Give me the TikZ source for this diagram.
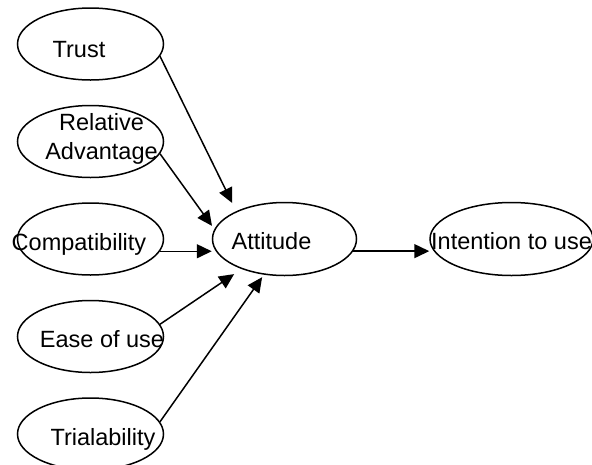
\documentclass[tikz,border=0pt]{standalone}
\usepackage{fontspec}
\setmainfont{Liberation Sans}
\usetikzlibrary{arrows.meta, positioning, shapes.geometric}

\begin{document}
\begin{tikzpicture}[
    x=1pt, y=1pt,
    oval/.style={draw, ellipse, line width=1.5pt, minimum width=146pt, minimum height=72pt, inner sep=0pt},
    txt/.style={font=\fontsize{23.5}{29}\selectfont, align=center, inner sep=0pt},
    stxt/.style={txt, text height=17pt, text depth=5pt},
    link/.style={line width=1.5pt, -{Triangle[length=15pt, width=14pt]}}
]
  \useasboundingbox (0,0) rectangle (592,-464);

  % Left column (factors)
  \node[oval, label={[stxt, xshift=-11.5pt, yshift=-7pt]center:Trust}] (trust) at (90.5,-44) {};
  \node[oval, below=24pt of trust, label={[txt, xshift=11pt, yshift=3pt]center:Relative\\Advantage}] (reladv) {};
  \node[oval, below=24pt of reladv, label={[stxt, xshift=-11.5pt, yshift=-5pt]center:Compatibility}] (compat) {};
  \node[oval, below=24pt of compat, label={[stxt, xshift=11.5pt, yshift=-4.5pt]center:Ease of use}] (ease) {};
  \node[oval, below=24pt of ease, label={[stxt, xshift=12.5pt, yshift=-5pt]center:Trialability}] (trial) {};

  % Attitude and intention
  \node[oval, minimum width=144pt, minimum height=73pt, right=47.5pt of compat,
        label={[stxt, xshift=-13pt, yshift=-4.5pt]center:Attitude}] (att) {};
  \node[oval, minimum width=163pt, minimum height=73pt, right=72pt of att,
        label={[stxt, yshift=-4.5pt]center:Intention to use}] (intent) {};

  % Arrows into attitude
  \draw[link, shorten >=9pt] (trust.-10) -- (att.150);
  \draw[link, shorten >=4pt] (reladv.-10) -- (att.172);
  \draw[link] (compat.-10) -- (compat.-10 -| att.west);
  \draw[link, shorten >=9pt] (ease.10) -- (att.215);
  \draw[link, shorten >=3pt] (trial.10) -- (att.240);

  % Attitude to intention
  \draw[link] (att.-10) -- (att.-10 -| intent.west);

\end{tikzpicture}
\end{document}
